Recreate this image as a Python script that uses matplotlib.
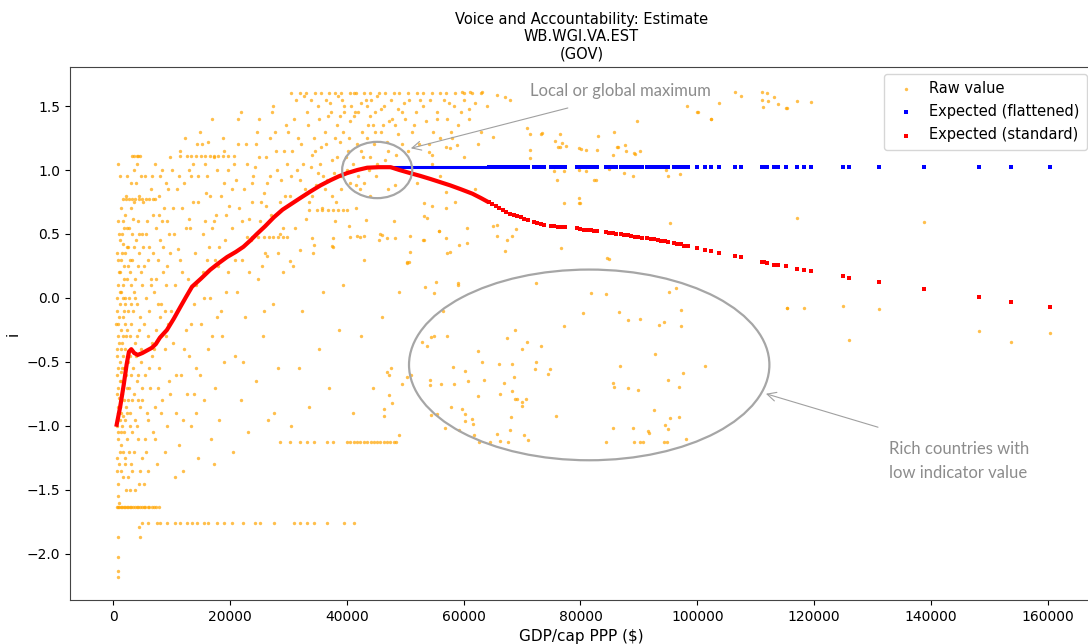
import matplotlib
matplotlib.use("Agg")
import matplotlib.pyplot as plt
import numpy as np
from matplotlib.patches import Ellipse

# GDP per capita in thousands of $, indicator value
raw_poor = [
    (0.8, -1.45), (1.0, -1.3), (1.2, -1.2), (0.9, -1.1), (1.5, -1.0), (0.7, -0.95), (1.1, -0.85), (1.8, -0.8),
    (0.9, -0.7), (1.4, -0.65), (2.0, -0.6), (0.8, -0.55), (1.2, -0.5), (1.7, -0.45), (0.6, -0.4), (1.0, -0.35),
    (2.2, -0.3), (1.3, -0.25), (0.9, -0.2), (1.6, -0.15), (0.7, -0.1), (1.1, -0.05), (2.0, 0.0), (1.4, 0.05),
    (0.8, 0.1), (1.9, 0.15), (1.2, 0.2), (0.9, 0.3), (1.5, 0.35), (2.3, 0.4), (1.0, 0.5), (1.7, 0.6), (1.3, 0.7),
    (0.8, -1.55), (1.6, -1.4), (2.1, -1.25), (1.3, -1.15), (0.6, -1.0), (2.4, -0.9), (1.9, -1.05), (0.7, -0.75),
    (2.3, -0.7), (1.5, -0.55), (2.1, -0.2), (0.6, -0.6), (1.8, 0.25), (2.4, 0.55), (1.1, 0.95), (0.9, 1.05),
    (2.2, -1.5), (1.0, -1.6), (1.4, -0.9), (2.0, -0.4), (1.2, 0.45), (0.7, 0.0), (1.7, -0.3), (2.4, -1.1),
    (0.9, -0.3), (1.6, 0.1), (2.2, 0.8), (0.6, -1.25), (0.8, -0.85), (1.0, -0.15), (1.3, -1.35), (1.5, -0.75),
    (1.7, 0.0), (1.9, -0.55), (2.1, -0.95), (2.3, 0.15), (0.7, -0.45), (1.1, -0.65), (1.4, 0.3), (1.6, -1.2),
    (1.8, -0.1), (2.0, 0.65), (2.2, -0.85), (2.4, -0.25), (0.9, 0.6), (1.2, -0.95), (0.5, -0.2), (1.0, 0.2),
    (1.3, -0.4), (2.0, -1.3), (1.5, 0.5), (0.8, -1.05), (0.8, -1.87), (0.9, -2.02), (0.8, -2.13), (0.8, -2.18),
    (0.6, 0.35), (0.7, -1.35), (1.0, -0.78), (1.1, 0.05), (1.3, -0.58), (1.4, -1.05), (1.6, 0.42), (1.7, -0.92),
    (1.9, 0.55), (2.1, -0.05), (2.2, -0.6), (1.5, -0.35), (0.9, -0.9), (2.0, 0.35),
]
raw_low = [
    (2.6, -1.4), (3.0, -1.3), (3.5, -1.2), (4.2, -1.1), (2.8, -1.0), (3.8, -0.95), (4.6, -0.85), (3.2, -0.8),
    (2.7, -0.7), (4.0, -0.65), (3.4, -0.55), (4.8, -0.5), (2.9, -0.45), (3.7, -0.35), (4.4, -0.25), (3.1, -0.2),
    (2.6, -0.1), (4.1, -0.05), (3.6, 0.05), (4.9, 0.1), (2.8, 0.2), (3.3, 0.3), (4.5, 0.35), (3.9, 0.45),
    (2.7, 0.55), (4.3, 0.6), (3.0, 0.9), (4.7, 0.95), (3.5, 1.0), (4.0, 1.05), (2.9, -1.5), (4.4, -1.45),
    (3.3, -1.35), (4.9, -1.25), (2.7, 0.0), (4.6, -0.15), (3.8, 0.15), (3.0, 0.7), (4.2, 0.25), (3.6, -0.75),
    (4.9, -0.7), (2.6, 0.4), (2.5, -0.5), (2.9, -0.9), (3.4, -0.1), (3.9, -0.45), (4.4, 0.5), (2.7, -1.2),
    (3.2, 0.5), (4.0, -1.0), (4.7, 0.2), (3.6, 0.75), (2.8, -0.3), (4.2, -0.6), (3.0, 0.1), (4.6, -1.35),
    (3.8, -1.5), (4.5, -1.79), (4.6, -1.87), (2.5, 0.25), (2.6, -0.8), (2.9, 0.3), (3.1, -0.6), (3.3, -1.05),
    (3.5, 0.4), (3.7, 0.0), (3.9, 0.9), (4.1, -0.3), (4.3, -0.8), (4.5, 0.8), (4.7, -0.4), (4.9, 0.5),
    (3.0, -0.05), (2.4, 0.95), (3.4, 0.62),
]
raw_lower_mid = [
    (5.2, -1.45), (6.0, -1.35), (7.5, -1.3), (8.8, -1.2), (5.5, -1.1), (6.8, -1.05), (9.2, -1.0), (5.8, -0.9),
    (7.2, -0.85), (8.4, -0.8), (6.3, -0.7), (9.6, -0.65), (5.4, -0.6), (7.8, -0.55), (6.6, -0.45), (8.9, -0.4),
    (5.9, -0.3), (7.3, -0.25), (9.4, -0.2), (6.1, -0.1), (8.2, -0.05), (5.6, 0.0), (7.0, 0.05), (9.0, 0.1),
    (6.5, 0.15), (8.5, 0.2), (5.3, 0.25), (7.6, 0.3), (9.8, 0.35), (6.2, 0.4), (8.1, 0.45), (5.7, 0.5),
    (7.4, 0.55), (9.3, 0.6), (6.9, 0.65), (8.7, 0.7), (5.1, 0.75), (7.9, 0.8), (6.4, 0.85), (9.1, 0.9),
    (5.5, 0.95), (8.3, 1.0), (7.1, 1.05), (9.7, 1.1), (6.7, -0.35), (8.0, -0.15), (5.0, -0.8), (9.9, -0.1),
    (7.7, -0.7), (6.0, 0.3), (5.3, -0.2), (5.8, 0.6), (6.2, -0.55), (6.6, 0.95), (7.0, -0.4), (7.4, 0.15),
    (7.8, 0.65), (8.2, -0.9), (8.6, 0.4), (9.0, -0.3), (9.4, 0.85), (9.8, -0.75), (5.6, -1.2), (6.4, 0.1),
    (7.2, -1.1), (8.0, 0.95), (8.8, -0.1), (9.6, 0.5), (5.1, 0.4), (6.9, 0.35), (7.6, -0.05), (8.4, 0.6),
    (9.2, 0.25), (6.0, -0.95),
]
raw_mid = [
    (10.5, -1.4), (12.0, -1.35), (14.5, -1.25), (11.2, -1.15), (16.8, -1.1), (13.4, -1.0), (18.2, -0.95),
    (10.8, -0.9), (15.6, -0.8), (12.6, -0.75), (17.4, -0.7), (11.6, -0.6), (14.2, -0.55), (19.0, -0.5),
    (13.0, -0.45), (16.2, -0.4), (10.2, -0.35), (18.6, -0.3), (12.4, -0.25), (15.0, -0.2), (17.8, -0.15),
    (11.0, -0.1), (13.8, -0.05), (16.6, 0.0), (19.4, 0.05), (10.6, 0.1), (12.8, 0.15), (15.4, 0.2), (18.0, 0.25),
    (11.4, 0.3), (14.0, 0.35), (16.4, 0.4), (19.2, 0.45), (10.4, 0.5), (13.2, 0.55), (15.8, 0.6), (17.6, 0.65),
    (11.8, 0.7), (14.6, 0.75), (18.4, 0.8), (10.9, 0.85), (12.2, 0.9), (16.0, 0.95), (19.6, 1.0), (13.6, 1.05),
    (17.2, 1.1), (11.5, 1.15), (15.2, 1.2), (18.8, 1.25), (14.8, 1.3), (16.9, 1.4), (12.9, 0.62), (15.9, 0.82),
    (17.0, 0.55), (11.1, 0.38), (19.8, 0.72), (13.3, 0.95), (14.1, -0.9), (17.3, -1.3), (10.1, 1.0),
    (10.3, 0.7), (10.7, -0.6), (11.3, 0.95), (11.7, 0.2), (12.1, -0.4), (12.5, 0.55), (12.9, 1.0),
    (13.3, -0.2), (13.7, 0.75), (14.1, 0.1), (14.5, 0.95), (14.9, -0.6), (15.3, 0.5), (15.7, 1.05),
    (16.1, 0.3), (16.5, 0.8), (16.9, -0.3), (17.3, 0.6), (17.7, 1.0), (18.1, 0.4), (18.5, -0.1), (18.9, 0.9),
    (19.3, 0.65), (19.7, 0.2), (11.9, -0.95), (13.9, -0.75), (15.5, 0.0), (17.5, 0.3), (19.0, 1.15),
    (14.3, 1.2), (12.3, 1.25), (16.3, 1.22),
    (20.5, -1.2), (23.0, -1.05), (26.5, -0.95), (21.8, -0.8), (24.4, -0.65), (28.2, -0.55), (20.9, -0.45),
    (25.6, -0.3), (22.6, -0.15), (27.4, -0.05), (21.2, 0.05), (24.8, 0.15), (29.0, 0.2), (22.0, 0.3),
    (26.0, 0.35), (23.6, 0.45), (28.6, 0.5), (20.3, 0.55), (25.2, 0.6), (27.0, 0.65), (21.6, 0.7), (23.8, 0.75),
    (29.4, 0.8), (22.4, 0.85), (26.4, 0.9), (24.0, 0.95), (28.0, 1.0), (20.7, 1.05), (25.0, 1.1), (27.8, 1.15),
    (22.8, 1.2), (26.8, 1.25), (24.6, 1.3), (29.6, 1.35), (21.4, 1.4), (27.2, 1.45), (23.2, 0.62), (25.8, 0.82),
    (28.8, 0.92), (21.0, 0.92), (29.8, 1.05), (24.2, 1.02), (26.2, 0.72), (22.2, -0.5), (27.6, -0.9),
    (25.4, 0.25), (26.3, 0.325), (30.3, 0.286), (32.0, 0.377), (34.0, 0.468), (34.3, 0.416), (37.5, 0.403),
    (20.4, 0.85), (21.3, 1.2), (22.1, 0.6), (22.9, 1.05), (23.7, 0.9), (24.5, 1.2), (25.3, 0.75), (26.1, 1.1),
    (26.9, 0.95), (27.7, 1.3), (28.5, 0.75), (29.3, 1.15), (20.9, 0.3), (23.3, 0.2), (25.9, -0.1),
    (28.3, 0.35), (21.9, 1.45), (24.9, 1.4), (27.3, 1.5), (29.1, 0.55),
]
raw_upper_mid = [
    (30.5, -1.0), (33.5, -0.85), (37.0, -0.7), (31.8, -0.55), (35.2, -0.4), (38.6, -0.25), (32.4, -0.1),
    (36.0, 0.05), (39.4, 0.1), (30.8, 0.25), (34.2, 0.35), (37.6, 0.4), (31.2, 0.55), (33.0, 0.62), (35.8, 0.7),
    (38.2, 0.75), (30.2, 0.8), (32.8, 0.85), (34.8, 0.88), (36.6, 0.92), (39.0, 0.95), (31.4, 1.0), (33.8, 1.02),
    (35.4, 1.05), (37.4, 1.08), (39.8, 1.1), (30.6, 1.15), (32.2, 1.2), (34.4, 1.25), (36.2, 1.3), (38.4, 1.35),
    (31.0, 1.4), (33.2, 1.45), (35.0, 1.5), (37.2, 1.52), (39.2, 1.55), (32.6, 1.58), (36.8, 1.42), (38.8, 1.22),
    (34.0, 1.12), (37.8, 0.98), (30.0, 1.3), (35.6, 1.18), (39.6, 1.45), (33.6, 0.75), (38.0, 0.6),
    (41.0, -0.9), (44.5, -0.7), (47.5, -0.55), (42.5, -0.3), (46.0, -0.15), (49.0, 0.05), (43.0, 0.3),
    (45.5, 0.45), (48.0, 0.6), (41.5, 0.7), (44.0, 0.8), (47.0, 0.85), (40.5, 0.9), (42.0, 0.95), (43.8, 1.0),
    (45.2, 1.05), (46.6, 1.08), (48.4, 1.12), (40.2, 1.15), (41.8, 1.2), (43.4, 1.25), (44.8, 1.3), (46.2, 1.35),
    (47.8, 1.4), (49.4, 1.45), (40.8, 1.5), (42.4, 1.52), (44.2, 1.55), (45.8, 1.48), (47.2, 1.38), (48.8, 1.28),
    (41.2, 1.42), (43.6, 1.35), (46.8, 1.22), (42.8, 1.1), (45.0, 0.95), (49.8, 1.52), (48.2, 0.88),
    (38.5, 1.58), (39.5, 1.5), (40.5, 1.38), (41.2, 1.6), (42.0, 1.45), (42.6, 1.3), (43.2, 1.55), (44.0, 1.42),
    (44.6, 1.2), (45.2, 1.58), (45.8, 1.3), (46.4, 1.5), (47.0, 1.15), (47.6, 1.55), (48.2, 1.35), (48.8, 1.48),
    (49.4, 1.2), (50.0, 1.4), (50.6, 1.55), (51.2, 1.3), (51.8, 1.45), (52.4, 1.2), (53.0, 1.5), (53.6, 1.38),
    (54.2, 1.55), (54.8, 1.3), (55.4, 1.45), (56.0, 1.25), (56.6, 1.55), (57.2, 1.4), (57.8, 1.3), (58.4, 1.5),
    (59.0, 1.35), (60.0, 1.55), (61.0, 1.4), (62.0, 1.52), (43.0, 0.9), (41.0, 1.05), (39.0, 0.85),
    (37.5, 0.8), (36.0, 0.95), (42.2, 0.85), (43.3, 0.61), (40.3, 0.559), (42.3, 0.476), (40.6, 0.476),
    (45.7, 0.499), (46.9, 0.468), (48.3, 0.468), (50.3, 0.281), (53.2, 0.637), (54.6, 0.715), (55.7, 0.52),
    (56.9, 0.468), (37.7, 0.468), (41.7, 0.481), (42.9, 0.481), (46.0, 0.494), (50.9, 0.481), (50.6, 0.278),
    (30.4, 0.95), (31.6, 1.25), (32.5, 1.05), (33.4, 1.35), (34.6, 1.15), (35.3, 1.4), (36.4, 1.2),
    (37.3, 1.45), (38.3, 1.1), (39.3, 1.3), (40.4, 1.25), (41.4, 1.45), (42.4, 1.15), (43.4, 1.5),
    (44.4, 1.35), (31.3, 1.55), (33.9, 1.55), (36.5, 1.55), (35.1, 0.98), (37.9, 1.25), (40.0, 1.0),
    (41.6, 0.88), (43.9, 1.1), (44.9, 1.45), (31.9, 0.92), (34.1, 0.8), (36.3, 0.85), (38.9, 1.42),
]
raw_rich = [
    (51.0, -0.6), (55.0, -0.3), (59.0, 0.1), (53.0, 0.45), (57.0, 0.7), (62.0, 0.85), (52.0, 0.9), (56.0, 0.95),
    (60.0, 1.1), (54.0, 1.2), (58.0, 1.25), (63.0, 1.3), (51.5, 1.35), (55.5, 1.4), (59.5, 1.45), (64.0, 1.5),
    (52.5, 1.55), (57.5, 1.52), (61.0, 1.48), (50.5, 1.15), (54.5, 1.05), (58.5, 0.75), (62.5, 1.2),
    (60.5, 0.55), (56.5, -0.1), (59.7, 1.607), (61.1, 1.607), (63.1, 1.607), (65.7, 1.586), (68.0, 1.547),
    (67.1, 1.573), (70.9, 1.326), (71.4, 1.279), (73.4, 1.287), (76.5, 1.279), (76.9, 1.209), (76.2, 1.183),
    (79.7, 1.17), (80.9, 1.157), (82.9, 1.157), (85.7, 1.3), (86.3, 1.183), (87.7, 1.196), (89.2, 1.131),
    (90.2, 1.149), (89.7, 1.386), (100.0, 1.451), (102.3, 1.399), (103.7, 1.521), (98.3, 1.503), (82.6, 0.923),
    (87.4, 0.975), (97.1, 0.967), (79.7, 0.78), (79.7, 0.741), (95.4, 0.585), (84.6, 0.312), (76.6, 0.39),
    (68.3, 0.481), (67.4, 0.455), (65.7, 0.481), (65.1, 0.559), (65.7, 0.572), (68.9, 0.538), (59.2, 0.416),
    (60.6, 0.429), (55.7, 0.52), (53.7, 0.624), (53.2, 0.455), (67.1, 0.364), (57.2, 0.351), (53.2, 0.741),
    (56.9, 0.832), (54.0, 1.144), (54.6, 1.118), (56.9, 1.183), (57.7, 1.17), (58.9, 1.196), (71.4, 1.157),
    (71.4, 1.092), (65.1, 1.261), (82.3, 0.923), (76.0, 0.923), (94.6, 1.027), (100.2, 1.453), (106.4, 1.607),
    (107.5, 1.576), (111.1, 1.607), (112.0, 1.604), (111.1, 1.547), (112.1, 1.542), (113.1, 1.568),
    (113.9, 1.513), (115.2, 1.482), (111.3, 1.49), (117.0, 1.539), (119.5, 1.529), (83.0, 1.269),
    (86.4, 1.178), (87.8, 1.149), (89.3, 1.126), (85.5, 1.118), (80.1, 1.165), (75.6, 1.227), (76.5, 1.178),
    (77.5, 1.191), (73.3, 1.282), (75.4, 0.993), (77.1, 0.993), (79.7, 1.0), (81.0, 0.993), (84.9, 1.006),
    (89.0, 0.957), (94.7, 1.0), (95.0, 0.957), (79.9, 0.741), (77.1, 0.741), (102.3, 1.396), (115.4, 1.482),
    (117.0, 0.623), (138.8, 0.591), (115.3, -0.075), (118.3, -0.075), (124.9, -0.065), (131.1, -0.086),
    (126.0, -0.33), (148.2, -0.255), (153.7, -0.343), (160.4, -0.273), (115.3, -0.076), (84.85, 0.305),
    (50.3, 0.276), (50.9, 0.362), (57.6, 0.362),
]
# the sparse cloud of rich countries with a low indicator value
raw_rich_low = [
    (53.45, 0.083), (54.88, 0.042), (55.28, 0.122), (59.04, 0.115), (72.46, 0.115), (81.88, 0.036),
    (84.45, 0.029), (80.46, -0.115), (86.68, -0.107), (88.17, -0.172), (90.28, -0.164), (95.13, 0.044),
    (96.39, 0.075), (97.24, -0.094), (97.3, -0.219), (94.28, -0.185), (93.48, -0.211), (77.26, -0.219),
    (68.75, -0.25), (67.44, -0.315), (70.86, -0.346), (69.95, -0.401), (73.32, -0.372), (62.41, -0.411),
    (63.21, -0.497), (66.01, -0.516), (68.29, -0.518), (72.46, -0.497), (72.29, -0.555), (74.8, -0.555),
    (74.4, -0.594), (68.69, -0.62), (66.98, -0.661), (68.29, -0.727), (68.81, -0.786), (69.15, -0.786),
    (70.75, -0.786), (69.95, -0.815), (70.01, -0.841), (66.18, -0.75), (62.41, -0.766), (63.44, -0.641),
    (60.7, -0.651), (60.3, -0.573), (58.19, -0.536), (58.42, -0.672), (56.08, -0.672), (54.19, -0.641),
    (54.19, -0.677), (54.42, -0.307), (53.79, -0.372), (52.93, -0.346), (57.16, -0.297), (57.79, -0.852),
    (59.67, -0.87), (60.3, -0.909), (60.3, -0.958), (61.5, -0.948), (61.56, -0.987), (56.76, -1.016),
    (54.48, -0.917), (55.45, -0.909), (59.22, -1.031), (61.73, -1.07), (62.58, -1.125), (64.47, -1.128),
    (66.18, -1.117), (67.67, -1.128), (68.01, -1.031), (68.07, -0.927), (65.73, -1.06), (70.35, -1.07),
    (71.04, -1.109), (75.83, -0.919), (84.4, -1.128), (85.54, -1.016), (89.02, -1.016), (89.14, -1.128),
    (90.16, -1.128), (90.73, -1.128), (91.65, -1.042), (91.76, -1.052), (94.39, -1.128), (94.79, -1.128),
    (94.96, -1.023), (94.5, -0.992), (95.3, -0.935), (96.84, -0.927), (98.1, -1.102), (92.62, -0.878),
    (85.65, -0.661), (85.77, -0.698), (88.22, -0.706), (89.82, -0.719), (86.74, -0.529), (92.79, -0.44),
    (94.96, -0.641), (96.79, -0.698), (97.64, -0.583), (101.41, -0.529), (46.9, -0.575), (47.2, -0.6),
    (50.3, -0.62), (49.5, -0.67), (47.2, -0.76), (47.7, -0.82), (46.3, -0.87), (46.4, -0.92), (49.0, -1.07),
]
# countries whose indicator stays flat while GDP moves: horizontal streaks
streaks = [
    (-1.63, [0.6, 0.8, 1.0, 1.3, 1.5, 1.8, 2.0, 2.3, 2.6, 2.9, 3.1, 3.4, 3.7, 4.0, 4.3, 4.6, 4.9, 5.2, 5.5,
             5.9, 6.2, 6.6, 7.0, 7.4, 7.8]),
    (-1.755, [4.9, 6.0, 7.5, 8.0, 9.2, 10.6, 11.5, 12.6, 13.5, 14.3, 15.5, 16.3, 17.8, 18.9, 20.3, 22.3,
              24.3, 25.2, 27.5, 30.9, 32.0, 33.2, 34.3, 36.6, 39.5, 41.2]),
    (-1.125, [28.6, 30.3, 32.0, 33.2, 34.3, 36.6, 37.7, 40.0, 40.6, 41.2, 41.8, 42.3, 42.9, 43.5, 44.1,
              44.6, 45.2, 45.7, 46.3, 46.9, 47.4, 48.0, 48.5]),
    (0.77, [1.7, 2.2, 2.7, 3.3, 3.8, 4.4, 5.0, 5.6, 6.2, 6.8, 7.2]),
    (1.11, [3.2, 3.6, 4.0, 4.3, 4.6, 11.5, 12.6, 13.4, 14.2, 15.0, 15.7, 16.5, 17.2, 18.0, 18.8, 19.6, 20.6]),
    (1.6, [30.5, 32.0, 33.0, 34.5, 35.5, 37.0, 38.0, 39.0, 40.5, 41.5, 43.0, 44.0, 45.5, 46.5, 48.0, 49.0,
           50.5, 52.0, 53.0, 54.5, 56.0, 57.0, 58.5, 60.0, 61.5, 63.0]),
    (0.69, [33.5, 34.9, 35.8, 36.8, 37.6, 38.5, 39.4, 40.0]),
    (0.48, [22.9, 23.8, 24.8, 25.8, 26.6, 27.4, 28.2, 29.0, 29.8]),
]

# expected value, dense part (one country every few hundred $)
exp_dense_gdp = [0.6, 1.2, 1.8, 2.3, 2.7, 3.1, 3.6, 4.2, 5.0, 5.8, 6.6, 7.3, 8.0, 9.2, 10.4, 11.5, 12.5, 13.5,
                 15.0, 16.6, 18.0, 19.5, 21.0, 22.3, 23.5, 24.6, 26.0, 27.5, 29.0, 30.5, 32.0, 33.7, 35.5, 37.2,
                 38.6, 40.0, 41.8, 43.5, 45.5, 47.5, 49.0, 50.9, 52.5, 54.3, 56.0, 57.7, 59.5, 61.5, 63.0, 64.0]
exp_dense_std = [-0.99, -0.85, -0.68, -0.52, -0.42, -0.40, -0.43, -0.445, -0.43, -0.41, -0.39, -0.36, -0.31,
                 -0.25, -0.16, -0.07, 0.01, 0.088, 0.15, 0.22, 0.27, 0.32, 0.36, 0.40, 0.45, 0.50, 0.56, 0.63,
                 0.69, 0.735, 0.78, 0.83, 0.88, 0.92, 0.95, 0.975, 1.0, 1.018, 1.022, 1.022, 1.0, 0.975, 0.955,
                 0.93, 0.905, 0.88, 0.85, 0.815, 0.78, 0.755]
# expected value for the richer countries
exp_gdp = [64.3, 64.9, 65.5, 66.1, 66.7, 67.3, 68.0, 68.6, 69.2, 69.8, 70.4, 71.0, 72.0, 72.6, 73.2, 73.8,
           74.9, 75.5, 76.1, 76.7, 77.3, 79.4, 80.0, 80.6, 81.2, 81.8, 82.4, 82.9, 84.3, 84.9, 85.5, 86.1,
           86.9, 87.5, 88.1, 88.7, 89.3, 89.9, 90.5, 91.4, 92.0, 92.6, 93.2, 93.8, 94.4, 95.0, 96.0, 96.6,
           97.2, 97.8, 98.4, 100.0, 101.4, 102.3, 103.7, 106.4, 107.5, 111.1, 111.4, 112.0, 113.1, 113.8,
           115.2, 117.0, 118.3, 119.5, 124.9, 126.0, 131.1, 138.8, 148.2, 153.7, 160.4]
exp_std = [0.75, 0.735, 0.72, 0.705, 0.69, 0.675, 0.66, 0.65, 0.64, 0.63, 0.62, 0.61, 0.595, 0.585, 0.578,
           0.57, 0.563, 0.56, 0.558, 0.557, 0.555, 0.545, 0.54, 0.535, 0.532, 0.528, 0.524, 0.52, 0.513, 0.51,
           0.507, 0.503, 0.498, 0.494, 0.49, 0.485, 0.48, 0.476, 0.472, 0.466, 0.462, 0.457, 0.452, 0.447,
           0.442, 0.436, 0.428, 0.423, 0.418, 0.41, 0.403, 0.39, 0.375, 0.365, 0.35, 0.33, 0.32, 0.28, 0.278,
           0.27, 0.26, 0.26, 0.25, 0.23, 0.22, 0.21, 0.17, 0.16, 0.125, 0.07, 0.008, -0.03, -0.07]
peak_gdp = 47.5
peak_value = 1.022

raw = np.array(raw_poor + raw_low + raw_lower_mid + raw_mid + raw_upper_mid + raw_rich + raw_rich_low)
streak_pts = np.array([(x, y) for y, xs in streaks for x in xs])
raw = np.vstack([raw, streak_pts])

dense_x = np.array(exp_dense_gdp) * 1000
dense_y = np.array(exp_dense_std)
exp_x = np.array(exp_gdp) * 1000
exp_y = np.array(exp_std)

orange = "#ffa500"
gray = "#8c8c8c"

fig = plt.figure(figsize=(10.88, 6.44), dpi=100)
ax = fig.add_axes([0.0643, 0.0683, 0.94, 0.8277])

ax.scatter(raw[:, 0] * 1000, raw[:, 1], s=6, c=orange, alpha=0.7, linewidths=0, marker="o",
           label="Raw value", zorder=2)

flat_mask = dense_x >= peak_gdp * 1000
ax.plot(dense_x[flat_mask], np.full(flat_mask.sum(), peak_value), color="blue", lw=2.2, zorder=3)
ax.scatter(exp_x, np.full(len(exp_x), peak_value), s=7, c="blue", marker="s", linewidths=0,
           label="Expected (flattened)", zorder=3)

ax.plot(dense_x, dense_y, color="red", lw=3, zorder=4)
ax.scatter(exp_x, exp_y, s=7, c="red", marker="s", linewidths=0, label="Expected (standard)", zorder=4)

ax.set_xlim(-7400, 167700)
ax.set_ylim(-2.36, 1.805)
ax.set_xticks(np.arange(0, 160001, 20000))
ax.set_yticks(np.arange(-2.0, 1.51, 0.5))
ax.tick_params(labelsize=10)
for side in ["left", "bottom", "top", "right"]:
    ax.spines[side].set_color("#444444")

ax.set_xlabel("GDP/cap PPP ($)", fontsize=11)
ax.set_ylabel("i", fontsize=11)
ax.set_title("Voice and Accountability: Estimate\nWB.WGI.VA.EST\n(GOV)", fontsize=10.5)

leg = ax.legend(loc="upper right", bbox_to_anchor=(1087 / 1088, 1 - 74 / 644), bbox_transform=fig.transFigure,
                fontsize=10.5, markerscale=1.0, handlelength=2.0, handletextpad=0.6, borderaxespad=0,
                borderpad=0.5, labelspacing=0.55)
leg.legend_handles[0].set_alpha(0.7)

# annotations added on top of the plot
ax.add_patch(Ellipse((45200, 1.0), 12000, 0.44, fill=False, edgecolor="#a6a6a6", lw=1.6, zorder=5))
ax.add_patch(Ellipse((81500, -0.523), 61700, 1.49, fill=False, edgecolor="#a6a6a6", lw=1.6, zorder=5))

ax.text(71400, 1.617, "Local or global maximum", fontsize=12, color=gray, family="Lato", va="center")
ax.annotate("", xy=(50500, 1.164), xytext=(78300, 1.49),
            arrowprops=dict(arrowstyle="->", color="#a0a0a0", lw=0.8, mutation_scale=16))
ax.text(132800, -1.117, "Rich countries with\nlow indicator value", fontsize=12, color=gray, family="Lato",
        va="top", linespacing=1.6)
ax.annotate("", xy=(111300, -0.742), xytext=(131400, -1.016),
            arrowprops=dict(arrowstyle="->", color="#a0a0a0", lw=0.8, mutation_scale=16))

fig.savefig("out.png", dpi=100)
